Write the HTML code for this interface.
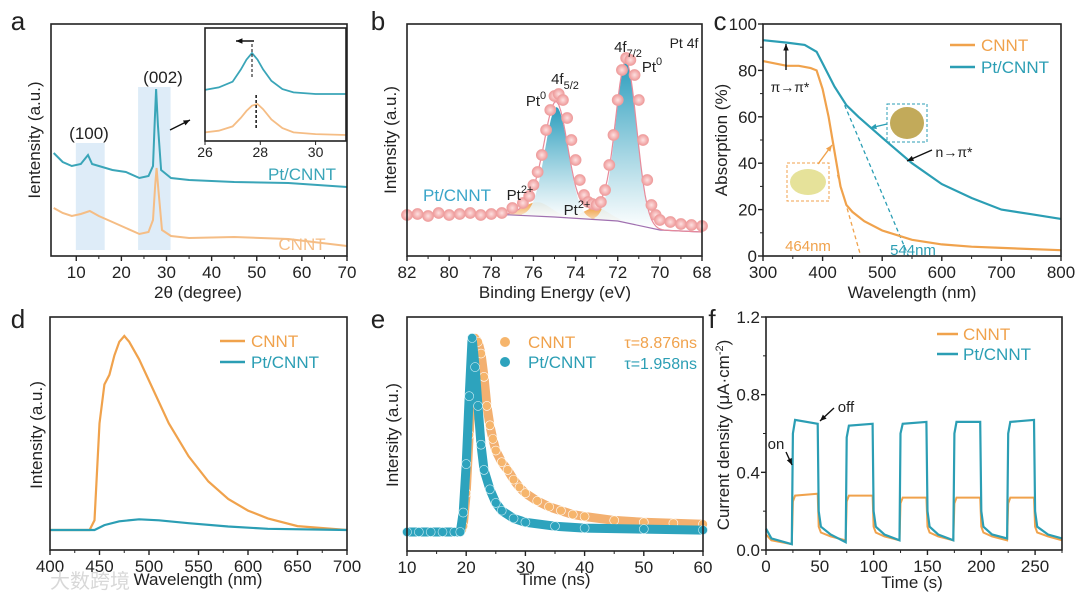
<!DOCTYPE html>
<html><head><meta charset="utf-8"><style>
html,body{margin:0;padding:0;background:#fff}
svg{display:block;font-family:"Liberation Sans","Noto Sans CJK SC",sans-serif}
</style></head><body>
<svg id="fig" width="1080" height="604" viewBox="0 0 1080 604">
<defs>
<linearGradient id="gTeal" x1="0" y1="0" x2="0" y2="1"><stop offset="0" stop-color="#2a9dbd"/><stop offset="1" stop-color="#ffffff" stop-opacity="0.9"/></linearGradient>
<linearGradient id="gOrg" x1="0" y1="0" x2="0" y2="1"><stop offset="0" stop-color="#f0a248"/><stop offset="1" stop-color="#fdf0e0"/></linearGradient>
<radialGradient id="gDot"><stop offset="0" stop-color="#fde0e0"/><stop offset="1" stop-color="#ef9a9a"/></radialGradient>
</defs>
</svg>
<script>
// ---------- DATA ----------
const aX_cnnt=[5,7,9,11,13,15,18,21,24,26,27,27.5,27.8,28.2,29,31,35,45,57,70];
const aY_cnnt=[48,43,40,42,45,40,34,28,22,24,36,71,88,66,26,20,18,19,17,10];
const aX_pt=[5,7,9,11,12.6,13.5,18,21,24,26,27,27.4,27.7,28.1,28.8,31,35,45,57,70];
const aY_pt=[103,94,90,92,101,92,86,84,78,80,90,136,167,131,86,78,76,74,73,69];
const aTicks=[10,20,30,40,50,60,70];
const insetX=[26,26.5,27,27.3,27.5,27.7,27.9,28.1,28.4,28.8,29.2,30,31.1];
const insetPt=[5,8,15,30,42,50,42,30,16,6,2,0,0];
const insetCn=[3,5,10,20,28,34,36,30,18,8,3,1,0];
const insetTicks=[26,28,30];
const bX=[82,81.5,81,80.5,80,79.5,79,78.5,78,77.5,77,76.5,76.2,76,75.8,75.6,75.4,75.2,75,74.8,74.6,74.4,74.2,74,73.8,73.6,73.4,73.2,73,72.8,72.6,72.4,72.2,72,71.8,71.6,71.4,71.2,71,70.8,70.6,70.4,70.2,70,69.5,69,68.5,68];
const bY=[41,42,40,43,41,42,43,41,42,43,48,53,60,71,84,101,126,146,160,162,156,138,116,96,76,61,54,52,51,54,66,91,121,156,186,198,196,181,156,116,76,51,41,36,34,32,31,30];
const bBaseX=[82,78,75,72,70,68];
const bBaseY=[43,42,39,35,26,24];
const bPeakC=[74.9,71.6];
const bPeakH=[110,161];
const bPeakS=[0.55,0.5];
const b2C=[75.8,73.0];
const b2H=[14,12];
const b2S=[0.65,0.6];
const bTicks=[82,80,78,76,74,72,70,68];
const cX_cnnt=[300,320,340,360,380,390,400,410,420,430,440,450,470,500,550,600,650,700,800];
const cY_cnnt=[84,83,82,82,81,80,72,60,45,30,22,19,15,11,7,5,4,3.5,2.5];
const cX_pt=[300,340,370,390,400,420,440,460,500,550,600,650,700,750,800];
const cY_pt=[93,92,91,88,83,73,65,60,51,40,31,25,20,18,16];
const cTicksX=[300,400,500,600,700,800];
const cTicksY=[0,20,40,60,80,100];
const dX_cnnt=[400,440,445,450,455,460,465,470,475,480,490,500,520,540,560,580,600,620,650,700];
const dY_cnnt=[0,0,5,55,75,80,90,97,100,97,88,77,55,38,25,16,10,6,2,0];
const dX_pt=[400,445,455,470,490,510,540,580,620,700];
const dY_pt=[0,0,2.5,4.5,5.5,5,3.5,1.8,0.6,0];
const dTicks=[400,450,500,550,600,650,700];
const eX_cnnt=[10,12,14,16,18,19,19.5,20,20.5,21,21.5,22,22.5,23,23.5,24,24.5,25,26,27,28,29,30,32,34,36,38,40,45,50,55,60];
const eY_cnnt=[0,0,0,0,0,0,3,20,50,80,100,98,92,80,65,55,48,42,36,32,27,23,20,16,13,11,9,8,6,5,4.5,4];
const eX_pt=[10,12,14,16,18,19,19.5,20,20.5,21,21.5,22,22.5,23,24,25,26,28,30,35,40,50,60];
const eY_pt=[0,0,0,0,0,0,10,35,70,100,85,65,45,32,22,15,11,7,5,3,2,1.5,1];
const eTicks=[10,20,30,40,50,60];
const fT=[0,5,24,25,27,48,49,51,60,74,75,77,99,100,102,110,124,125,127,149,150,152,160,174,175,177,199,200,202,210,224,225,227,249,250,252,262,275];
const fPt=[0.11,0.06,0.03,0.60,0.67,0.65,0.20,0.12,0.08,0.04,0.58,0.64,0.65,0.20,0.12,0.08,0.05,0.60,0.65,0.66,0.20,0.12,0.08,0.05,0.60,0.66,0.66,0.20,0.12,0.08,0.06,0.60,0.66,0.67,0.20,0.12,0.08,0.06];
const fCn=[0.08,0.05,0.03,0.25,0.28,0.29,0.12,0.09,0.07,0.05,0.25,0.28,0.28,0.12,0.09,0.07,0.05,0.24,0.27,0.27,0.12,0.09,0.07,0.05,0.24,0.27,0.27,0.12,0.09,0.07,0.05,0.24,0.27,0.27,0.12,0.09,0.07,0.05];
const fTicksX=[0,50,100,150,200,250];
const fTicksY=[0,0.4,0.8,1.2];

// ---------- HELPERS ----------
const NS='http://www.w3.org/2000/svg';
const svg=document.getElementById('fig');
const TEAL='#2b9eb4', ORG='#f0a24c';
function mk(tag,attrs,name,parent){
  const el=document.createElementNS(NS,tag);
  for(const k in attrs) el.setAttribute(k,attrs[k]);
  
  
  (parent||svg).appendChild(el);return el;
}
function txt(x,y,s,name,o){
  o=o||{};
  const t=mk('text',{x:x,y:y,'font-size':o.size||17,fill:o.fill||'#222','text-anchor':o.anchor||'middle'},name);
  if(o.rot) t.setAttribute('transform','rotate(-90 '+x+' '+y+')');
  if(o.html) t.innerHTML=s; else t.textContent=s;
  return t;
}
function lin(d0,d1,r0,r1){return v=>r0+(v-d0)/(d1-d0)*(r1-r0);}
function path(xs,ys,sx,sy){return xs.map((x,i)=>(i?'L':'M')+sx(x).toFixed(1)+','+sy(ys[i]).toFixed(1)).join('');}
function frame(p,name){
  mk('rect',{x:p.x0,y:p.y0,width:p.x1-p.x0,height:p.y1-p.y0,fill:'none',stroke:'#222','stroke-width':1.6},name);
}
function xTicks(p,sx,ticks,fmt,name,minor){
  ticks.forEach(t=>{
    mk('line',{x1:sx(t),x2:sx(t),y1:p.y1,y2:p.y1+5,stroke:'#222','stroke-width':1.4},name+'-tick');
    txt(sx(t),p.y1+22,fmt?fmt(t):String(t),name+'-label');
  });
  if(minor) minor.forEach(t=>mk('line',{x1:sx(t),x2:sx(t),y1:p.y1,y2:p.y1+3,stroke:'#222','stroke-width':1},name+'-minor-tick'));
}
function yTicks(p,sy,ticks,fmt,name,minor){
  ticks.forEach(t=>{
    mk('line',{x1:p.x0-5,x2:p.x0,y1:sy(t),y2:sy(t),stroke:'#222','stroke-width':1.4},name+'-tick');
    txt(p.x0-6,sy(t)+6,fmt?fmt(t):String(t),name+'-label',{anchor:'end'});
  });
  if(minor) minor.forEach(t=>mk('line',{x1:p.x0-3,x2:p.x0,y1:sy(t),y2:sy(t),stroke:'#222','stroke-width':1},name+'-minor-tick'));
}
function mids(ticks){const m=[];for(let i=0;i<ticks.length-1;i++)m.push((ticks[i]+ticks[i+1])/2);return m;}
function gauss(x,c,h,s){return h*Math.exp(-0.5*((x-c)/s)**2);}
function interp(xs,ys,x){for(let i=0;i<xs.length-1;i++){const a=xs[i],b=xs[i+1];if((x-a)*(x-b)<=0){return ys[i]+(ys[i+1]-ys[i])*(x-a)/(b-a);}}return ys[ys.length-1];}
function arrow(x1,y1,x2,y2,name,col){
  col=col||'#111';
  mk('line',{x1:x1,y1:y1,x2:x2,y2:y2,stroke:col,'stroke-width':1.4},name);
  const a=Math.atan2(y2-y1,x2-x1),L=7;
  const p=[[x2,y2],[x2-L*Math.cos(a-0.4),y2-L*Math.sin(a-0.4)],[x2-L*Math.cos(a+0.4),y2-L*Math.sin(a+0.4)]];
  mk('polygon',{points:p.map(q=>q.join(',')).join(' '),fill:col},name+'-head');
}

// ---------- PANEL A ----------
(function(){
  const p={x0:51,x1:347,y0:24,y1:256};
  const sx=lin(4.4,70,p.x0,p.x1), sy=lin(0,232,256,24);
  mk('rect',{x:sx(9.9),y:143,width:sx(16.3)-sx(9.9),height:107,fill:'#deecf8'},'highlight-100');
  mk('rect',{x:sx(23.7),y:87,width:sx(30.9)-sx(23.7),height:163,fill:'#deecf8'},'highlight-002');
  mk('path',{d:path(aX_cnnt,aY_cnnt,sx,sy),fill:'none',stroke:'#f5bd85','stroke-width':2},'xrd-cnnt-line');
  mk('path',{d:path(aX_pt,aY_pt,sx,sy),fill:'none',stroke:'#3aa5b8','stroke-width':2},'xrd-pt-cnnt-line');
  frame(p,'panel-a-frame');
  xTicks(p,sx,aTicks,null,'panel-a-x',[15,25,35,45,55,65]);
  txt(198,298,'2θ (degree)','panel-a-x-title');
  txt(40,140,'Ientensity (a.u.)','panel-a-y-title',{rot:true});
  txt(18,30,'a','panel-a-letter',{size:26});
  txt(89,139,'(100)','peak-100-label');
  txt(163,83,'(002)','peak-002-label');
  txt(302,180,'Pt/CNNT','pt-cnnt-label',{fill:'#3aa5b8',size:17});
  txt(302,250,'CNNT','cnnt-label',{fill:'#f5bd85',size:17});
  arrow(170,130,190,120,'inset-pointer-arrow');
  const q={x0:205,x1:346,y0:28,y1:141};
  mk('rect',{x:q.x0,y:q.y0,width:q.x1-q.x0,height:q.y1-q.y0,fill:'#fff'},'inset-bg');
  const ix=lin(26,31.1,q.x0,q.x1), iyP=lin(0,50,94,53), iyC=lin(0,36,135,104);
  mk('path',{d:path(insetX,insetPt,ix,iyP),fill:'none',stroke:'#3aa5b8','stroke-width':1.8},'inset-pt-line');
  mk('path',{d:path(insetX,insetCn,ix,iyC),fill:'none',stroke:'#f5bd85','stroke-width':1.8},'inset-cnnt-line');
  mk('line',{x1:ix(27.7),x2:ix(27.7),y1:44,y2:78,stroke:'#333','stroke-dasharray':'3,2','stroke-width':1.2},'inset-dash-pt');
  mk('line',{x1:ix(27.85),x2:ix(27.85),y1:95,y2:128,stroke:'#222','stroke-dasharray':'3,2','stroke-width':1.6},'inset-dash-cnnt');
  arrow(254,41,236,41,'shift-arrow');
  frame(q,'inset-frame');
  insetTicks.forEach(t=>{
    mk('line',{x1:ix(t),x2:ix(t),y1:q.y1,y2:q.y1+4,stroke:'#222'},'inset-x-tick');
    txt(ix(t),q.y1+16,String(t),'inset-x-label',{size:14});
  });
})();

// ---------- PANEL B ----------
(function(){
  const p={x0:407,x1:702,y0:24,y1:256};
  const sx=lin(82,68,p.x0,p.x1), sy=lin(0,232,256,24);
  const base=x=>interp(bBaseX,bBaseY,x);
  function comp(c,h,s,fill,name){
    const xs=[],ys=[],bs=[];
    for(let x=c-3*s;x<=c+3*s+1e-9;x+=s/8){xs.push(x);ys.push(base(x)+gauss(x,c,h,s));bs.push(base(x));}
    let d=path(xs,ys,sx,sy);
    for(let i=xs.length-1;i>=0;i--) d+='L'+sx(xs[i]).toFixed(1)+','+sy(bs[i]).toFixed(1);
    mk('path',{d:d+'Z',fill:fill},name);
  }
  b2C.forEach((c,i)=>comp(c,b2H[i],b2S[i],'url(#gOrg)','pt2-component'));
  bPeakC.forEach((c,i)=>comp(c,bPeakH[i],bPeakS[i],'url(#gTeal)','pt0-component'));
  mk('path',{d:path(bBaseX,bBaseY,sx,sy),fill:'none',stroke:'#a070b0','stroke-width':1.2},'background-line');
  const fx=[],fy=[];
  for(let x=82;x>=68;x-=0.1){let v=base(x);bPeakC.forEach((c,i)=>v+=gauss(x,c,bPeakH[i],bPeakS[i]));b2C.forEach((c,i)=>v+=gauss(x,c,b2H[i],b2S[i]));fx.push(x);fy.push(v);}
  mk('path',{d:path(fx,fy,sx,sy),fill:'none',stroke:'#e88a9a','stroke-width':1.2},'fit-envelope');
  bX.forEach((x,i)=>mk('circle',{cx:sx(x),cy:sy(bY[i]),r:5.5,fill:'url(#gDot)',stroke:'#eea0a0','stroke-width':0.8},'xps-data-point'));
  frame(p,'panel-b-frame');
  xTicks(p,sx,bTicks,null,'panel-b-x',[81,79,77,75,73,71,69]);
  txt(555,298,'Binding Energy (eV)','panel-b-x-title');
  txt(396,140,'Intensity (a.u.)','panel-b-y-title',{rot:true});
  txt(378,30,'b','panel-b-letter',{size:26});
  txt(457,201,'Pt/CNNT','sample-label',{fill:'#3aa5c8',anchor:'middle'});
  txt(520,200,'Pt<tspan dy="-7" font-size="11">2+</tspan>','pt2-label-left',{html:true,size:15});
  txt(577,215,'Pt<tspan dy="-7" font-size="11">2+</tspan>','pt2-label-right',{html:true,size:15});
  txt(536,106,'Pt<tspan dy="-7" font-size="11">0</tspan>','pt0-label-left',{html:true,size:15});
  txt(565,84,'4f<tspan dy="5" font-size="11">5/2</tspan>','4f52-label',{html:true,size:15});
  txt(628,52,'4f<tspan dy="5" font-size="11">7/2</tspan>','4f72-label',{html:true,size:15});
  txt(652,72,'Pt<tspan dy="-7" font-size="11">0</tspan>','pt0-label-right',{html:true,size:15});
  txt(684,48,'Pt 4f','pt4f-label',{size:14});
})();

// ---------- PANEL C ----------
(function(){
  const p={x0:763,x1:1061,y0:24,y1:256};
  const sx=lin(300,800,p.x0,p.x1), sy=lin(0,100,256,24);
  mk('line',{x1:sx(425),y1:sy(35),x2:sx(464),y2:sy(0),stroke:ORG,'stroke-dasharray':'4,3','stroke-width':1.3},'tangent-cnnt');
  mk('line',{x1:sx(437),y1:sy(65),x2:sx(544),y2:sy(0),stroke:TEAL,'stroke-dasharray':'4,3','stroke-width':1.3},'tangent-pt');
  mk('path',{d:path(cX_cnnt,cY_cnnt,sx,sy),fill:'none',stroke:ORG,'stroke-width':2.2},'absorption-cnnt-line');
  mk('path',{d:path(cX_pt,cY_pt,sx,sy),fill:'none',stroke:TEAL,'stroke-width':2.2},'absorption-pt-line');
  mk('rect',{x:787,y:163,width:42,height:38,fill:'none',stroke:ORG,'stroke-dasharray':'3,2'},'photo-cnnt-box');
  mk('ellipse',{cx:808,cy:182,rx:18,ry:13,fill:'#e6e29a'},'photo-cnnt');
  mk('rect',{x:887,y:104,width:40,height:38,fill:'none',stroke:TEAL,'stroke-dasharray':'3,2'},'photo-pt-box');
  mk('ellipse',{cx:907,cy:123,rx:17,ry:16,fill:'#c2aa5a'},'photo-pt');
  arrow(818,164,832,145,'photo-cnnt-arrow',ORG);
  arrow(887,124,870,128,'photo-pt-arrow',TEAL);
  txt(790,92,'π→π*','pi-pi-label',{size:14});
  arrow(786,70,786,44,'pi-arrow');
  txt(954,157,'n→π*','n-pi-label',{size:14});
  arrow(932,150,907,161,'n-pi-arrow');
  txt(808,251,'464nm','edge-cnnt-label',{fill:ORG,size:15});
  txt(913,255,'544nm','edge-pt-label',{fill:TEAL,size:15});
  mk('line',{x1:950,x2:975,y1:45,y2:45,stroke:ORG,'stroke-width':2.5},'legend-cnnt-line');
  txt(981,51,'CNNT','legend-cnnt',{fill:ORG,anchor:'start'});
  mk('line',{x1:950,x2:975,y1:67,y2:67,stroke:TEAL,'stroke-width':2.5},'legend-pt-line');
  txt(981,73,'Pt/CNNT','legend-pt',{fill:TEAL,anchor:'start'});
  frame(p,'panel-c-frame');
  xTicks(p,sx,cTicksX,null,'panel-c-x',mids(cTicksX));
  yTicks(p,sy,cTicksY,null,'panel-c-y',mids(cTicksY));
  txt(912,298,'Wavelength (nm)','panel-c-x-title');
  txt(727,140,'Absorption (%)','panel-c-y-title',{rot:true});
  txt(720,30,'c','panel-c-letter',{size:26});
})();

// ---------- PANEL D ----------
(function(){
  const p={x0:50,x1:347,y0:317,y1:550};
  const sx=lin(400,700,p.x0,p.x1), sy=lin(0,100,530,336);
  mk('path',{d:path(dX_cnnt,dY_cnnt,sx,sy),fill:'none',stroke:ORG,'stroke-width':2.2},'pl-cnnt-line');
  mk('path',{d:path(dX_pt,dY_pt,sx,sy),fill:'none',stroke:TEAL,'stroke-width':2.2},'pl-pt-line');
  frame(p,'panel-d-frame');
  xTicks(p,sx,dTicks,null,'panel-d-x',mids(dTicks));
  txt(198,585,'Wavelength (nm)','panel-d-x-title');
  txt(42,435,'Intensity (a.u.)','panel-d-y-title',{rot:true});
  txt(18,328,'d','panel-d-letter',{size:26});
  mk('line',{x1:220,x2:245,y1:341,y2:341,stroke:ORG,'stroke-width':2.5},'legend-cnnt-line');
  txt(251,347,'CNNT','legend-cnnt',{fill:ORG,anchor:'start'});
  mk('line',{x1:220,x2:245,y1:362,y2:362,stroke:TEAL,'stroke-width':2.5},'legend-pt-line');
  txt(251,368,'Pt/CNNT','legend-pt',{fill:TEAL,anchor:'start'});
  txt(50,588,'大数跨境','watermark',{fill:'#d8d8d8',anchor:'start',size:20});
})();

// ---------- PANEL E ----------
(function(){
  const p={x0:407,x1:703,y0:317,y1:551};
  const sx=lin(10,60,p.x0,p.x1), sy=lin(0,100,532,338);
  mk('path',{d:path(eX_cnnt,eY_cnnt,sx,sy),fill:'none',stroke:'#f3b070','stroke-width':9,'stroke-linejoin':'round','stroke-linecap':'round'},'trpl-cnnt-band');
  eX_cnnt.forEach((x,i)=>mk('circle',{cx:sx(x),cy:sy(eY_cnnt[i]),r:4.5,fill:'#f6b56c',stroke:'#fff','stroke-width':0.6},'trpl-cnnt-point'));
  mk('path',{d:path(eX_pt,eY_pt,sx,sy),fill:'none',stroke:'#2da3bd','stroke-width':9,'stroke-linejoin':'round','stroke-linecap':'round'},'trpl-pt-band');
  eX_pt.forEach((x,i)=>mk('circle',{cx:sx(x),cy:sy(eY_pt[i]),r:4.5,fill:'#2da3bd',stroke:'#cfeef5','stroke-width':0.6},'trpl-pt-point'));
  frame(p,'panel-e-frame');
  xTicks(p,sx,eTicks,null,'panel-e-x',mids(eTicks));
  txt(555,585,'Time (ns)','panel-e-x-title');
  txt(398,435,'Intersity (a.u.)','panel-e-y-title',{rot:true});
  txt(378,328,'e','panel-e-letter',{size:26});
  mk('circle',{cx:505,cy:342,r:5,fill:'#f6b56c'},'legend-cnnt-marker');
  txt(528,348,'CNNT','legend-cnnt',{fill:ORG,anchor:'start'});
  mk('circle',{cx:505,cy:362,r:5,fill:'#2da3bd'},'legend-pt-marker');
  txt(528,368,'Pt/CNNT','legend-pt',{fill:TEAL,anchor:'start'});
  txt(697,348,'τ=8.876ns','tau-cnnt',{fill:ORG,anchor:'end',size:16});
  txt(697,369,'τ=1.958ns','tau-pt',{fill:TEAL,anchor:'end',size:16});
})();

// ---------- PANEL F ----------
(function(){
  const p={x0:766,x1:1062,y0:317,y1:550};
  const sx=lin(0,275,p.x0,p.x1), sy=lin(0,1.2,550,317);
  mk('path',{d:path(fT,fCn,sx,sy),fill:'none',stroke:ORG,'stroke-width':2},'photocurrent-cnnt-line');
  mk('path',{d:path(fT,fPt,sx,sy),fill:'none',stroke:TEAL,'stroke-width':2.2},'photocurrent-pt-line');
  frame(p,'panel-f-frame');
  xTicks(p,sx,fTicksX,null,'panel-f-x',[25,75,125,175,225,275]);
  yTicks(p,sy,fTicksY,t=>t.toFixed(1),'panel-f-y',mids(fTicksY));
  txt(912,588,'Time (s)','panel-f-x-title');
  txt(729,435,'Current density (μA·cm<tspan dy="-6" font-size="11">-2</tspan><tspan dy="6">)</tspan>','panel-f-y-title',{rot:true,html:true});
  txt(712,328,'f','panel-f-letter',{size:26});
  txt(776,449,'on','on-label',{size:15});
  arrow(786,452,792,465,'on-arrow');
  txt(846,412,'off','off-label',{size:15});
  arrow(834,408,820,421,'off-arrow');
  mk('line',{x1:937,x2:958,y1:334,y2:334,stroke:ORG,'stroke-width':2.5},'legend-cnnt-line');
  txt(963,340,'CNNT','legend-cnnt',{fill:ORG,anchor:'start'});
  mk('line',{x1:937,x2:958,y1:354,y2:354,stroke:TEAL,'stroke-width':2.5},'legend-pt-line');
  txt(963,360,'Pt/CNNT','legend-pt',{fill:TEAL,anchor:'start'});
})();
</script>
</body></html>
